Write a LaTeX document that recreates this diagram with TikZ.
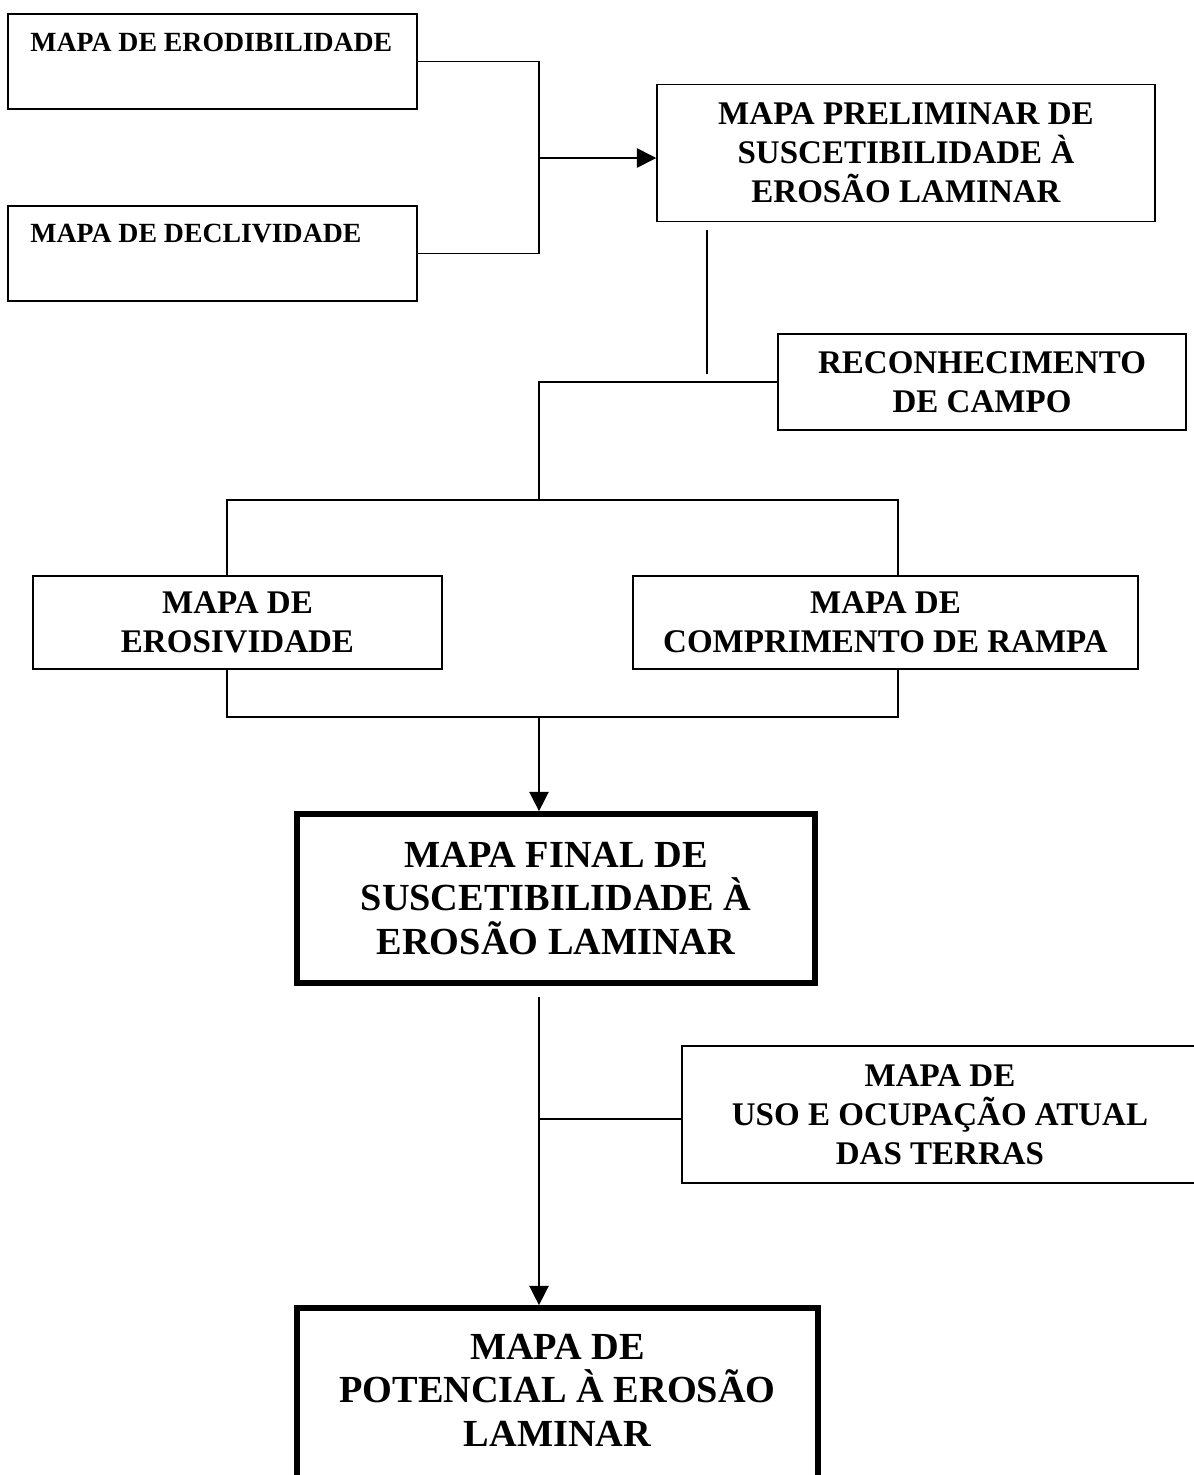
\documentclass[tikz,border=0pt]{standalone}
\usepackage{fontspec}
\setmainfont{Liberation Serif}
\usetikzlibrary{calc,arrows.meta}

\begin{document}
\begin{tikzpicture}[x = 0.02cm, y = -0.02cm,
        box/.style = {draw, line width = 0.9pt, inner sep = 0pt},
        thickbox/.style = {draw, line width = 3.3pt, inner sep = 0pt},
        txtsmall/.style = {inner sep = 0pt, font = \fontsize{15.8}{18}\selectfont\bfseries},
        txtmed/.style = {inner sep = 0pt, align = center, font = \fontsize{18.8}{22.2}\selectfont\bfseries},
        txtbig/.style = {inner sep = 0pt, align = center, font = \fontsize{21.8}{24.8}\selectfont\bfseries},
        link/.style = {line width = 0.9pt},
        arr/.style = {link, -{Triangle[length = 11pt, width = 11pt]}}]
        \useasboundingbox (0,0) rectangle (1194,1475);
        \clip (0,0) rectangle (1194,1475);

        % input maps
        \node[box, minimum width = 8.18cm, minimum height = 1.9cm] (ero) at (212.5,61.5) {};
        \node[txtsmall, anchor = base west] (erolbl) at (30,51) {MAPA DE ERODIBILIDADE};
        \node[box, minimum width = 8.18cm, minimum height = 1.9cm] (decl) at (212.5,253.5) {};
        \node[txtsmall, anchor = base west] (decllbl) at (30,242) {MAPA DE DECLIVIDADE};

        \node[box, txtmed, minimum width = 9.96cm, minimum height = 2.74cm] (prelim) at (906,153)
            {MAPA PRELIMINAR DE\\SUSCETIBILIDADE À\\EROSÃO LAMINAR};
        \node[box, txtmed, minimum width = 8.16cm, minimum height = 1.92cm] (recon) at (982,382)
            {RECONHECIMENTO\\DE CAMPO};

        \node[box, txtmed, minimum width = 8.18cm, minimum height = 1.86cm] (eros) at (237.5,622.5)
            {MAPA DE\\EROSIVIDADE};
        \node[box, txtmed, minimum width = 10.1cm, minimum height = 1.86cm] (rampa) at (885.5,622.5)
            {MAPA DE\\COMPRIMENTO DE RAMPA};

        \node[thickbox, txtbig, minimum width = 10.36cm, minimum height = 3.38cm] (final) at (556,898.5)
            {MAPA FINAL DE\\SUSCETIBILIDADE À\\EROSÃO LAMINAR};
        \node[box, txtmed, minimum width = 10.32cm, minimum height = 2.74cm] (uso) at (940,1114.5)
            {MAPA DE\\USO E OCUPAÇÃO ATUAL\\DAS TERRAS};

        % last box runs past the page
        \node[thickbox, minimum width = 10.42cm, minimum height = 3.84cm] (pot) at (557.5,1404) {};
        \node[txtbig] (potlbl) at (557.5,1390) {MAPA DE\\POTENCIAL À EROSÃO\\LAMINAR};

        % junctions
        \coordinate (j1) at (539,158);
        \coordinate (j2) at (707,230);
        \coordinate (j3) at (707,374);
        \coordinate (j4) at (539,500);
        \coordinate (sl) at (227,500);
        \coordinate (sr) at (898,500);
        \coordinate (ml) at (227,717);
        \coordinate (mr) at (898,717);
        \coordinate (j5) at (539,717);
        \coordinate (j6) at (539,997);
        \coordinate (j7) at (539,1119);

        \draw[link] (ero.east) -| (j1) |- (decl.east);
        \draw[arr]  (j1) -- (j1 -| prelim.west);
        \draw[link] (j2) -- (j3);
        \draw[link] (recon.west) -| (j4);
        \draw[link] (sl |- eros.north) -- (sl) -- (sr) -- (sr |- rampa.north);
        \draw[link] (ml |- eros.south) -- (ml) -- (mr) -- (mr |- rampa.south);
        \draw[arr]  (j5) -- (j5 |- final.north);
        \draw[arr]  (j6) -- (j6 |- pot.north);
        \draw[link] (j7) -- (j7 -| uso.west);
\end{tikzpicture}
\end{document}
